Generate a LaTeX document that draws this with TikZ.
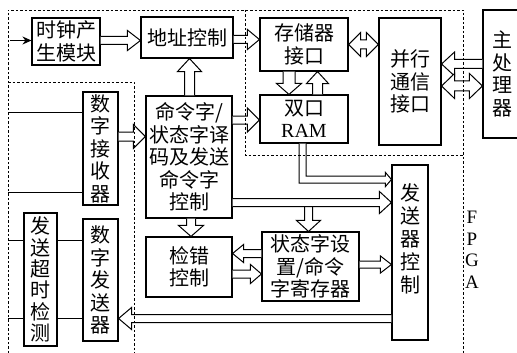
\documentclass[tikz,border=0pt]{standalone}
\usepackage{fontspec}
\newfontfamily\cjk{Noto Sans CJK SC}
\newfontfamily\ser{Liberation Serif}
\usetikzlibrary{calc,arrows.meta}
\newcommand\cjkfont{\cjk\fontsize{20}{22.5}\selectfont}
\tikzset{
  box/.style={draw, line width=1.1pt, inner sep=0pt, align=center, font=\cjkfont},
  blk/.style={draw, fill=white, line width=1pt, line join=miter},
  region/.style={line width=0.9pt, dash pattern=on 2.5pt off 2pt},
  wire/.style={line width=0.9pt},
  latin/.style={font=\ser\fontsize{19}{21.5}\selectfont},
}
% single block arrow: [style]{start}{end}{shaft half}{head half}{head length}
\newcommand\barr[6][]{%
  \coordinate (bq) at ($(#3)!#6!(#2)$);
  \filldraw[blk,#1] ($(#2)!#4!90:(#3)$) -- ($(bq)!#4!90:(#3)$) -- ($(bq)!#5!90:(#3)$) -- (#3)
    -- ($(bq)!#5!270:(#3)$) -- ($(bq)!#4!270:(#3)$) -- ($(#2)!#4!270:(#3)$);
}
% double-headed block arrow
\newcommand\dbarr[6][]{%
  \coordinate (bq) at ($(#3)!#6!(#2)$);
  \coordinate (bp) at ($(#2)!#6!(#3)$);
  \filldraw[blk,#1] (#2) -- ($(bp)!#5!90:(#3)$) -- ($(bp)!#4!90:(#3)$) -- ($(bq)!#4!90:(#3)$)
    -- ($(bq)!#5!90:(#3)$) -- (#3) -- ($(bq)!#5!270:(#3)$) -- ($(bq)!#4!270:(#3)$)
    -- ($(bp)!#4!270:(#3)$) -- ($(bp)!#5!270:(#3)$) -- cycle;
}
\begin{document}
\begin{tikzpicture}[x=1pt,y=-1pt]
\useasboundingbox (0,0) rectangle (517,353);
% boxes
\node[box,minimum width=68pt,minimum height=47pt] (clk) at (66,41.5) {时钟产\\生模块};
\node[box,minimum width=92pt,minimum height=41pt] (addr) at (187,37.5) {地址控制};
\node[box,minimum width=88pt,minimum height=53pt] (mem) at (304,44.5) {存储器\\接口};
\node[box,minimum width=88pt,minimum height=48pt] (ram) at (304,119) {双口\\{\ser\fontsize{20}{20}\selectfont RAM}};
\node[box,minimum width=62pt,minimum height=127pt] (par) at (410,81.5) {并行\\通信\\接口};
\node[box,minimum width=38pt,minimum height=128pt] (cpu) at (502,74) {主\\处\\理\\器};
\node[box,minimum width=35pt,minimum height=113pt] (rx) at (100.5,148.5) {数\\字\\接\\收\\器};
\node[box,minimum width=86pt,minimum height=122pt] (cmd) at (189,157) {命令字/\\状态字译\\码及发送\\命令字\\控制};
\node[box,minimum width=86pt,minimum height=60pt] (err) at (189,267) {检错\\控制};
\node[box,minimum width=97pt,minimum height=69pt] (stat) at (310.5,266.5) {状态字设\\置/命令\\字寄存器};
\node[box,minimum width=36pt,minimum height=175pt,font=\cjk\fontsize{20}{23}\selectfont] (txc) at (410,252.5) {发\\送\\器\\控\\制\\[6pt]};
\node[box,minimum width=35pt,minimum height=122pt] (tx) at (100.5,280) {数\\字\\发\\送\\器};
\node[box,minimum width=33pt,minimum height=133pt,font=\cjk\fontsize{20}{21.3}\selectfont] (tout) at (40.5,279.5) {发\\送\\超\\时\\检\\测};
\node[latin, align=center, inner sep=0pt] (fpga) at (472,250) {F\\P\\G\\A};

% thin wires
\coordinate (in) at (10,40.5);
\draw[wire,-{Stealth[length=9pt,width=8pt]}] (in) -- (clk.west |- in);
\coordinate (w1) at (8,112);
\coordinate (w2) at (8,192);
\coordinate (w3) at (8,240);
\coordinate (w4) at (8,318);
\draw[wire] (w1) -- (rx.west |- w1);
\draw[wire] (w2) -- (rx.west |- w2);
\draw[wire] (w3) -- (tout.west |- w3);
\draw[wire] (w4) -- (tout.west |- w4);
\draw[wire] (tout.east |- w3) -- (tx.west |- w3);
\draw[wire] (tout.east |- w4) -- (tx.west |- w4);

% block arrows
\coordinate (a1s) at (clk.east |- 0,40.5); \coordinate (a1e) at (addr.west |- 0,40.5);
\barr{a1s}{a1e}{4pt}{10pt}{13pt}
\coordinate (a2s) at (addr.east |- 0,39.5); \coordinate (a2e) at (mem.west |- 0,39.5);
\barr{a2s}{a2e}{4pt}{10pt}{12pt}
\coordinate (a3s) at (cmd.north -| 189.5,0); \coordinate (a3e) at (addr.south -| 189.5,0);
\barr{a3s}{a3e}{5pt}{12pt}{13pt}
\coordinate (a4s) at (rx.east |- 0,136.5); \coordinate (a4e) at (cmd.west |- 0,136.5);
\barr{a4s}{a4e}{4.5pt}{12pt}{12pt}
\coordinate (a5s) at (cmd.east |- 0,120); \coordinate (a5e) at (ram.west |- 0,120);
\barr{a5s}{a5e}{4pt}{12pt}{12pt}
\coordinate (a6s) at (mem.east |- 0,44.5); \coordinate (a6e) at (par.west |- 0,44.5);
\dbarr{a6s}{a6e}{4.5pt}{12pt}{12pt}
\coordinate (a7s) at (mem.south -| 289,0); \coordinate (a7e) at (ram.north -| 289,0);
\barr{a7s}{a7e}{6pt}{12.5pt}{11pt}
\coordinate (a8s) at (ram.north -| 317.5,0); \coordinate (a8e) at (mem.south -| 317.5,0);
\barr{a8s}{a8e}{5pt}{11pt}{12pt}
\coordinate (a9s) at (cpu.west |- 0,64); \coordinate (a9e) at (par.east |- 0,64);
\barr{a9s}{a9e}{4.5pt}{12pt}{13pt}
\coordinate (a10s) at (par.east |- 0,86); \coordinate (a10e) at (cpu.west |- 0,86);
\dbarr{a10s}{a10e}{5pt}{12.5pt}{13pt}
% L-shaped narrow arrow from RAM to transmitter control
\filldraw[blk] let \p1=(ram.south -| 302.5,0), \p2=(txc.west |- 0,179.5) in
  (\x1-3.5pt,\y1) -- (\x1-3.5pt,\y2-3.5pt) -- (\x2-6pt,\y2-3.5pt) -- (\x2-6pt,\y2-7pt)
  -- (\x2,\y2) -- (\x2-6pt,\y2+7pt) -- (\x2-6pt,\y2+3.5pt) -- (\x1+3.5pt,\y2+3.5pt) -- (\x1+3.5pt,\y1);
\coordinate (a13s) at (308.5,206); \coordinate (a13e) at (stat.north -| 308.5,0);
\barr{a13s}{a13e}{4pt}{12pt}{11pt}
\coordinate (a12s) at (cmd.east |- 0,202.5); \coordinate (a12e) at (txc.west |- 0,202.5);
\barr{a12s}{a12e}{4pt}{11pt}{12pt}
\coordinate (a14s) at (cmd.south -| 191,0); \coordinate (a14e) at (err.north -| 191,0);
\barr{a14s}{a14e}{4.5pt}{12.5pt}{11pt}
\coordinate (a15s) at (stat.west |- 0,253.5); \coordinate (a15e) at (err.east |- 0,253.5);
\barr{a15s}{a15e}{4pt}{9pt}{11pt}
\coordinate (a16s) at (err.east |- 0,274); \coordinate (a16e) at (stat.west |- 0,274);
\barr{a16s}{a16e}{4pt}{9.5pt}{11pt}
\coordinate (a17s) at (stat.east |- 0,264.5); \coordinate (a17e) at (txc.west |- 0,264.5);
\barr{a17s}{a17e}{3.5pt}{8.5pt}{11pt}
\coordinate (a18s) at (txc.west |- 0,318.5); \coordinate (a18e) at (tx.east |- 0,318.5);
\barr{a18s}{a18e}{4pt}{11pt}{13pt}

% dashed regions
\draw[region] (8,353) -- (8,10) -- (463,10) -- (463,353);
\draw[region] (8,82) -- (134,82) -- (134,353);
\draw[region] (245,10) -- (245,155) -- (463,155);
\end{tikzpicture}
\end{document}
